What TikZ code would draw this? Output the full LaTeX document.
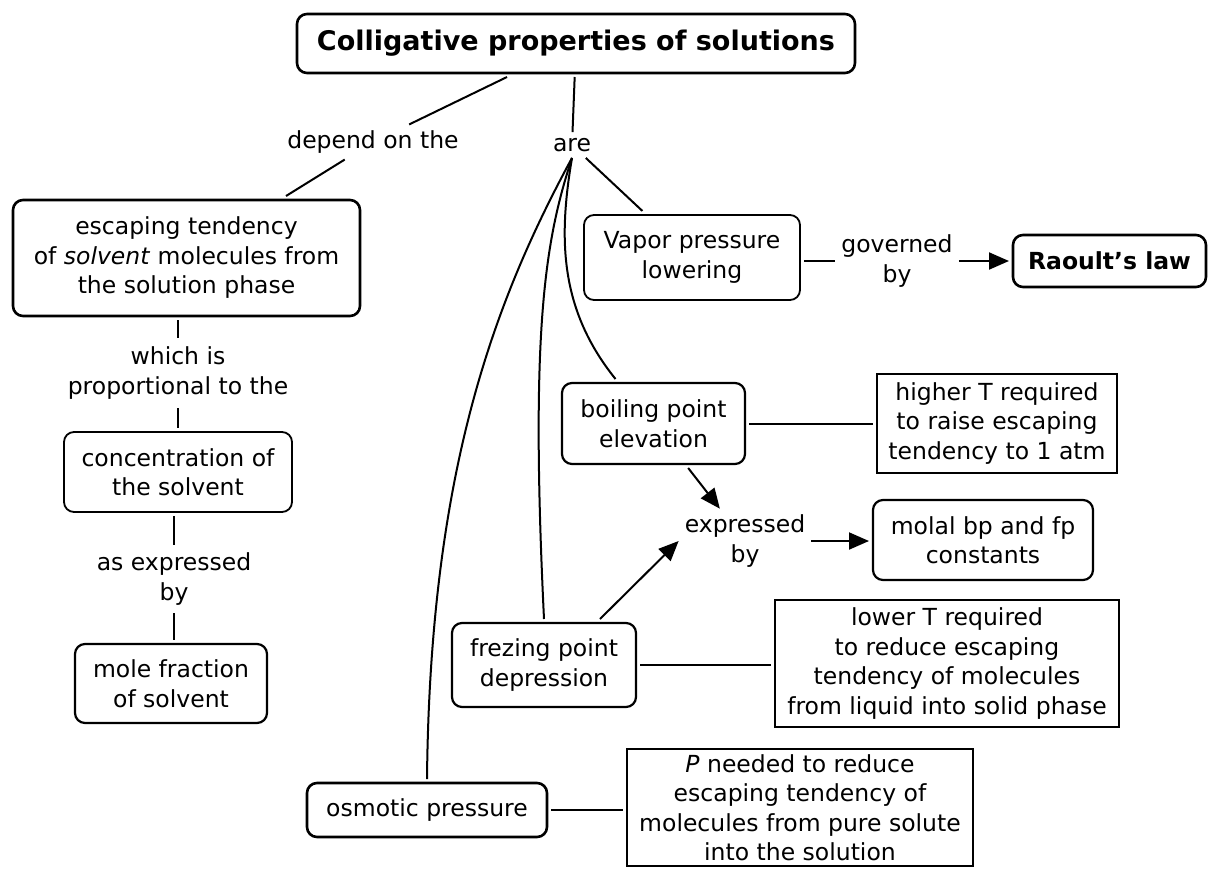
\documentclass[tikz,border=0pt]{standalone}
\usepackage{fontspec}
\setmainfont{DejaVu Sans}
\usetikzlibrary{arrows.meta}
\begin{document}
\begin{tikzpicture}[x=1pt,y=-1pt,
  every node/.style={font=\fontsize{23.5}{29.5}\selectfont, align=center},
  rbox/.style={draw, rounded corners=10pt, line width=2.2pt, inner sep=0pt, outer sep=4pt},
  sbox/.style={draw, line width=2.6pt, inner sep=0pt, outer sep=4pt},
  lbl/.style={inner sep=6pt},
  conn/.style={line width=2pt},
  arr/.style={conn, -{Triangle[length=20pt,width=17pt]}}
]
\useasboundingbox (0,0) rectangle (1208,868);

% boxes
\node[rbox, line width=2.6pt, minimum width=558pt, minimum height=59pt, font=\fontsize{27}{32}\selectfont\bfseries] (title) at (576,43.5) {Colligative properties of solutions};
\node[rbox, line width=2.6pt, minimum width=347pt, minimum height=116pt] (esc) at (186.5,258) {escaping tendency\\of \textit{solvent} molecules from\\the solution phase};
\node[rbox, line width=1.8pt, minimum width=228pt, minimum height=80pt] (conc) at (178,472) {concentration of\\the solvent};
\node[rbox, minimum width=192pt, minimum height=79pt] (mole) at (171,683.5) {mole fraction\\of solvent};
\node[rbox, line width=1.8pt, minimum width=216pt, minimum height=85pt] (vapor) at (692,257.5) {Vapor pressure\\lowering};
\node[rbox, line width=2.6pt, minimum width=193pt, minimum height=52pt, font=\fontsize{23.5}{29.5}\selectfont\bfseries] (raoult) at (1109.5,261) {Raoult's law};
\node[rbox, minimum width=183pt, minimum height=81pt] (boil) at (653.5,423.5) {boiling point\\elevation};
\node[sbox, minimum width=240pt, minimum height=99pt] (higher) at (997,423.5) {higher T required\\to raise escaping\\tendency to 1 atm};
\node[rbox, minimum width=220pt, minimum height=80pt] (molal) at (983,540) {molal bp and fp\\constants};
\node[sbox, minimum width=344pt, minimum height=127pt] (lower) at (947,663.5) {lower T required\\to reduce escaping\\tendency of molecules\\from liquid into solid phase};
\node[rbox, minimum width=184pt, minimum height=84pt] (freez) at (544,665) {frezing point\\depression};
\node[rbox, line width=2.6pt, minimum width=240pt, minimum height=54pt] (osm) at (427,810) {osmotic pressure};
\node[sbox, minimum width=346pt, minimum height=117pt] (pbox) at (800,807.5) {\textit{P} needed to reduce\\escaping tendency of\\molecules from pure solute\\into the solution};

% labels
\node[lbl] (depend) at (373,142) {depend on the};
\node[lbl] (are) at (572,145) {are};
\node[lbl, inner sep=9pt] (prop) at (178,373) {which is\\proportional to the};
\node[lbl, inner sep=8pt] (asexp) at (174,579) {as expressed\\by};
\node[lbl] (gov) at (897,261) {governed\\by};
\node[lbl] (expr) at (745,541) {expressed\\by};

% connectors
\draw[conn] (title) -- (depend);
\draw[conn] (depend) -- (esc);
\draw[conn] (title) -- (are);
\draw[conn] (are) -- (vapor);
\draw[conn] (are.south) .. controls (558,240) and (560,310) .. ([xshift=-38pt]boil.north);
\draw[conn] (are.south) .. controls (545,240) and (530,330) .. (freez.north);
\draw[conn] (are.south) .. controls (495,300) and (430,470) .. (osm.north);

\draw[conn] (esc.south -| prop.north) -- (prop.north);
\draw[conn] (prop.south) -- (conc.north -| prop.south);
\draw[conn] (conc.south -| asexp.north) -- (asexp.north);
\draw[conn] (asexp.south) -- (mole.north -| asexp.south);

\draw[conn] (gov.west -| vapor.east) -- (gov.west);
\draw[arr] (gov.east) -- (raoult.west);
\draw[conn] (boil.east) -- (boil.east -| higher.west);
\draw[arr] (boil) -- (expr);
\draw[arr] ([xshift=56pt]freez.north) -- (expr.west);
\draw[arr] (expr.east) -- (expr.east -| molal.west);
\draw[conn] (freez.east) -- (freez.east -| lower.west);
\draw[conn] (osm.east) -- (osm.east -| pbox.west);
\end{tikzpicture}
\end{document}
